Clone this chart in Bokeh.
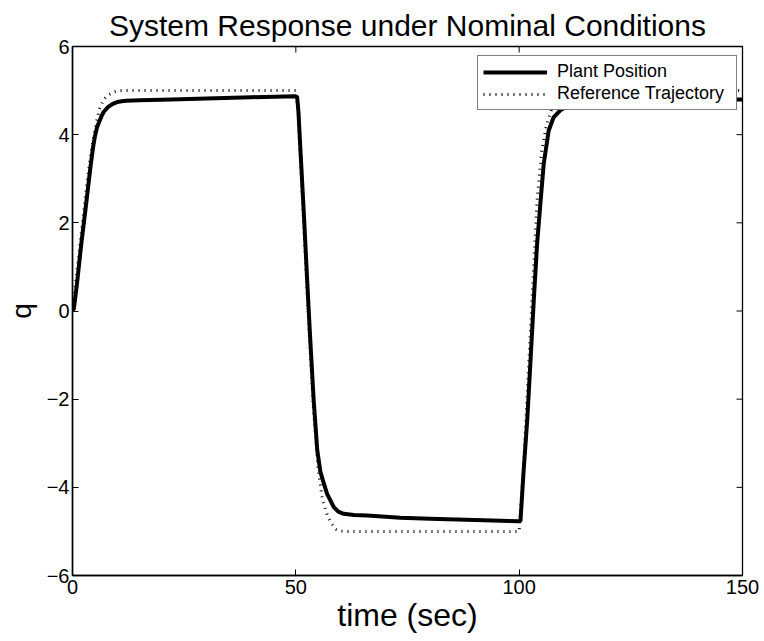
from bokeh.plotting import figure
from bokeh.models import LinearAxis, FixedTicker, Range1d, Legend, LegendItem, ColumnDataSource
from bokeh.embed import file_html
from bokeh.resources import INLINE

# ---- data ----
plant_t = [0, 0.3, 1, 2, 3, 4, 4.6, 5, 5.5, 6, 6.5, 7, 8, 9, 10, 11, 12, 15, 20, 30, 40, 50,
           50.3, 50.6, 51, 51.8, 52.5, 53.2, 54, 54.8, 55.5, 56.3, 57, 58.5, 59.5, 60.7, 63, 66,
           73.4, 80, 90, 100,
           100.3, 101, 101.8, 102.5, 103.3, 104, 104.8, 105.5, 106.6, 107.7, 109.2, 110, 112,
           115, 120, 130, 140, 150]
plant_q = [0, 0.05, 0.62, 1.55, 2.38, 3.25, 3.71, 3.95, 4.17, 4.3, 4.42, 4.52, 4.63, 4.7, 4.74,
           4.76, 4.77, 4.78, 4.79, 4.82, 4.85, 4.87,
           4.85, 4.5, 3.71, 2.2, 0.77, -0.6, -2.03, -3.16, -3.65, -3.92, -4.15, -4.45, -4.55,
           -4.6, -4.63, -4.64, -4.69, -4.71, -4.74, -4.77,
           -4.75, -3.62, -2.48, -1.2, 0.3, 1.5, 2.5, 3.34, 4.09, 4.39, 4.55, 4.6, 4.67,
           4.71, 4.74, 4.77, 4.79, 4.8]

ref_t = [0, 1, 2, 3, 4, 5, 6, 7, 8, 9, 10, 11, 50,
         50.5, 51, 52, 53, 54, 55, 56, 57, 58, 59, 60, 61, 100,
         101, 102, 103, 104, 105, 106, 107, 108, 109, 110, 111, 150]
ref_q = [0, 0.9, 1.8, 2.7, 3.5, 4.1, 4.58, 4.8, 4.9, 4.96, 4.99, 5, 5,
         4.5, 3.5, 1.5, -0.5, -2.3, -3.6, -4.3, -4.62, -4.82, -4.95, -4.99, -5, -5,
         -3.5, -1.5, 0.5, 2.5, 3.6, 4.15, 4.5, 4.75, 4.9, 4.97, 5, 5]

x_ticks = [0, 50, 100, 150]
x_tick_labels = ["0", "50", "100", "150"]
y_ticks = [-6, -4, -2, 0, 2, 4, 6]
y_tick_labels = ["\u22126", "\u22124", "\u22122", "0", "2", "4", "6"]

series_names = ["Plant Position", "Reference Trajectory"]
title_text = "System Response under Nominal Conditions"
x_label = "time (sec)"
y_label = "q"

FONT = "Liberation Sans"

p = figure(width=764, height=641,
           x_range=Range1d(x_ticks[0], x_ticks[-1]), y_range=Range1d(y_ticks[0], y_ticks[-1]),
           output_backend="svg", toolbar_location=None,
           min_border_left=72, min_border_right=22, min_border_top=46, min_border_bottom=66,
           x_axis_location=None, y_axis_location=None)
p.background_fill_color = "white"
p.border_fill_color = "white"
p.outline_line_color = "black"
p.outline_line_width = 1.3
p.xgrid.visible = False
p.ygrid.visible = False

p.title.text = title_text
p.title.align = "center"
p.title.text_font = FONT
p.title.text_font_size = "30px"
p.title.text_font_style = "normal"
p.title.text_color = "black"
p.title.standoff = 10


def make_axis(ticks, labels, axis_label, label_size, label_standoff, tick_standoff):
    ax = LinearAxis(ticker=FixedTicker(ticks=ticks))
    ax.major_label_overrides = {v: s for v, s in zip(ticks, labels)}
    ax.major_tick_in = 6
    ax.major_tick_out = 0
    ax.minor_tick_line_color = None
    ax.axis_line_color = "black"
    ax.axis_line_width = 1.5
    ax.major_tick_line_color = "black"
    ax.major_tick_line_width = 1
    ax.major_label_text_font = FONT
    ax.major_label_text_color = "black"
    ax.major_label_text_font_size = "20px"
    ax.major_label_standoff = tick_standoff
    ax.axis_label = axis_label
    ax.axis_label_text_font = FONT
    ax.axis_label_text_font_size = label_size
    ax.axis_label_text_font_style = "normal"
    ax.axis_label_text_color = "black"
    ax.axis_label_standoff = label_standoff
    return ax


p.add_layout(make_axis(x_ticks, x_tick_labels, x_label, "32px", 0, 4), "below")
p.add_layout(make_axis(y_ticks, y_tick_labels, y_label, "28px", 7, 3), "left")

# inward tick marks on the top and right edges of the box (clipped to the frame)
p.scatter(x=x_ticks, y=[y_ticks[-1]] * len(x_ticks), marker="dash", size=12, angle=1.5708,
          line_color="black", line_width=1)
p.scatter(x=[x_ticks[-1]] * len(y_ticks), y=y_ticks, marker="dash", size=12,
          line_color="black", line_width=1)

plant_src = ColumnDataSource(dict(t=plant_t, q=plant_q))
ref_src = ColumnDataSource(dict(t=ref_t, q=ref_q))

r_plant = p.line("t", "q", source=plant_src, line_color="black", line_width=4, line_join="round")
r_ref = p.line("t", "q", source=ref_src, line_color="black", line_width=3, line_dash="1 5")

legend = Legend(items=[LegendItem(label=series_names[0], renderers=[r_plant]),
                       LegendItem(label=series_names[1], renderers=[r_ref])],
                location=(405, 465))
legend.border_line_color = "black"
legend.border_line_width = 1
legend.background_fill_color = "white"
legend.background_fill_alpha = 1
legend.label_text_font = FONT
legend.label_text_font_size = "18px"
legend.label_text_color = "black"
legend.padding = 5
legend.spacing = 1
legend.glyph_width = 64
legend.glyph_height = 20
legend.label_height = 20
legend.label_width = 174
legend.label_standoff = 10
legend.margin = 0
p.add_layout(legend, "center")

open("out.html", "w").write(file_html(p, INLINE))
